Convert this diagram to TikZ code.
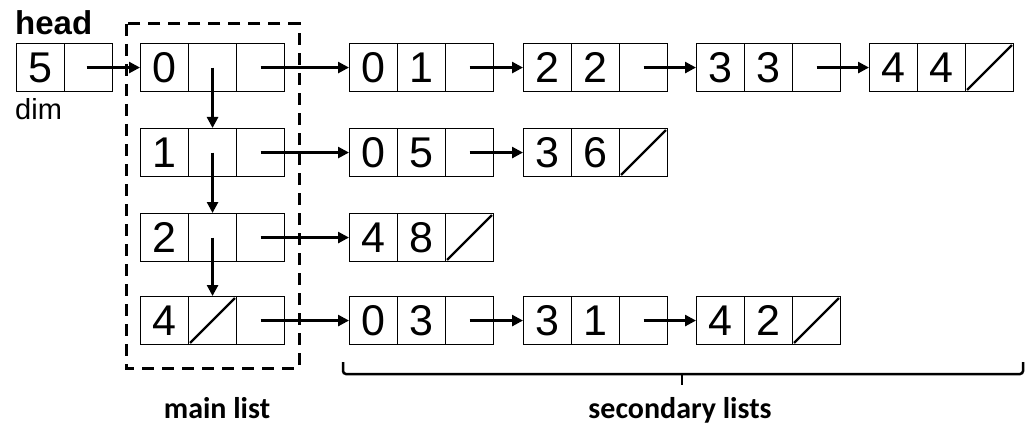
\documentclass[tikz,border=0pt]{standalone}
\usepackage{fontspec}
\setmainfont{Liberation Sans}
\newfontfamily\labelfont{Carlito}
\usetikzlibrary{arrows.meta}
\tikzset{
  cell/.style={draw, line width=1.1pt, minimum width=48pt, minimum height=48pt, inner sep=0pt, anchor=north west, text height=30pt, text depth=0pt, font=\fontsize{43}{46}\selectfont},
  link/.style={line width=2.6pt, -{Triangle[length=11pt,width=11pt]}},
  nullmark/.style={line width=2.3pt, shorten <=3pt, shorten >=3pt},
  frame/.style={line width=3pt, dash pattern=on 12pt off 8pt},
  bracket/.style={line width=2.5pt, rounded corners=3pt},
  caption/.style={font=\labelfont\bfseries\fontsize{30}{34}\selectfont, anchor=base},
}
\newcommand\threecell[5]{%
  \node[cell] (#1a) at (#2,#3) {#4};
  \node[cell] (#1b) at (#2+48,#3) {#5};
  \node[cell] (#1c) at (#2+96,#3) {};
}
\newcommand\nullcell[1]{\draw[nullmark] (#1.south west) -- (#1.north east);}
\begin{document}
\begin{tikzpicture}[x=1pt,y=-1pt]
\useasboundingbox (0,0) rectangle (1030,425);
% head
\node[font=\bfseries\fontsize{33}{36}\selectfont, anchor=base west, inner sep=0pt] (headlbl) at (15,35) {head};
\node[cell] (ha) at (16,43) {5};
\node[cell] (hb) at (64,43) {};
\node[font=\fontsize{29}{32}\selectfont, anchor=base west, inner sep=0pt] (dimlbl) at (15,120) {dim};
% main list
\threecell{m0}{140}{43}{0}{}
\threecell{m1}{140}{128}{1}{}
\threecell{m2}{140}{213}{2}{}
\threecell{m3}{140}{296}{4}{}
\nullcell{m3b}
% secondary row 0
\threecell{p0}{349}{43}{0}{1}
\threecell{p1}{523}{43}{2}{2}
\threecell{p2}{696}{43}{3}{3}
\threecell{p3}{869}{43}{4}{4}
\nullcell{p3c}
% row 1
\threecell{q0}{349}{128}{0}{5}
\threecell{q1}{523}{128}{3}{6}
\nullcell{q1c}
% row 2
\threecell{r0}{349}{213}{4}{8}
\nullcell{r0c}
% row 3
\threecell{t0}{349}{296}{0}{3}
\threecell{t1}{523}{296}{3}{1}
\threecell{t2}{696}{296}{4}{2}
\nullcell{t2c}
% dashed frame
\coordinate (fr1) at (126,24);
\coordinate (fr2) at (299,368);
\draw[frame] (fr1) rectangle (fr2);
% links
\draw[link] ([xshift=-2pt]hb.center) -- (m0a.west);
\draw[link] (m0b.center) -- (m1b.north);
\draw[link] (m1b.center) -- (m2b.north);
\draw[link] (m2b.center) -- (m3b.north);
\draw[link] (m0c.center) -- (p0a.west);
\draw[link] (m1c.center) -- (q0a.west);
\draw[link] (m2c.center) -- (r0a.west);
\draw[link] (m3c.center) -- (t0a.west);
\draw[link] (p0c.center) -- (p1a.west);
\draw[link] (p1c.center) -- (p2a.west);
\draw[link] (p2c.center) -- (p3a.west);
\draw[link] (q0c.center) -- (q1a.west);
\draw[link] (t0c.center) -- (t1a.west);
\draw[link] (t1c.center) -- (t2a.west);
% bracket
\coordinate (bl) at (343,362);
\coordinate (br) at (1023,362);
\coordinate (bm) at (682,374);
\coordinate (bt) at (682,385);
\draw[bracket] (bl) -- (343,374) -- (1023,374) -- (br);
\draw[line width=2.5pt] (bm) -- (bt);
% captions
\node[caption] (mainlbl) at (217,418) {main list};
\node[caption] (seclbl) at (680,418) {secondary lists};
\end{tikzpicture}
\end{document}
